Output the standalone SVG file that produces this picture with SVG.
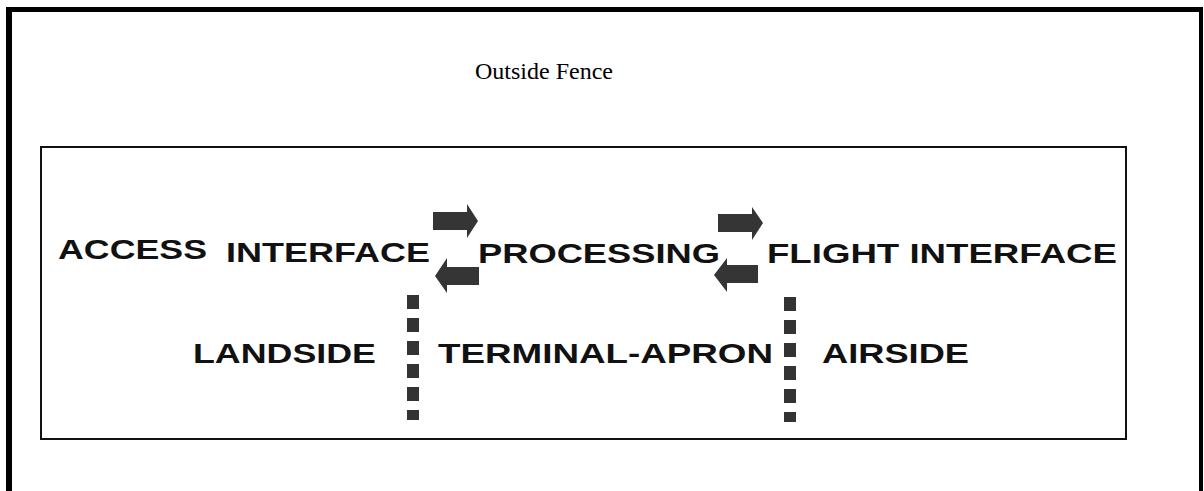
<svg xmlns="http://www.w3.org/2000/svg" width="1204" height="491" viewBox="0 0 1204 491">
  <style>
    .lbl { font-family: "Liberation Sans", Arial, sans-serif; font-weight: bold; font-size: 28px; fill: #111; }
    .fence { font-family: "Liberation Serif", "Times New Roman", serif; font-size: 24px; fill: #000; }
    .arrow { fill: #353535; }
    .divider { stroke: #333; stroke-width: 12; stroke-dasharray: 14 9; fill: none; }
  </style>
  <rect width="1204" height="491" fill="#fff"/>
  <g id="outside-fence">
    <rect x="6" y="7" width="1197" height="5" fill="#000"/>
    <rect x="6" y="7" width="6" height="484" fill="#000"/>
    <rect x="1199" y="7" width="4" height="484" fill="#000"/>
    <text class="fence" x="475" y="79">Outside Fence</text>
  </g>
  <g id="inside-fence">
    <rect x="41" y="147" width="1085" height="292" fill="none" stroke="#111" stroke-width="2"/>
  </g>
  <g id="access-interface">
    <text class="lbl" x="58" y="259" textLength="149" lengthAdjust="spacingAndGlyphs">ACCESS</text>
    <text class="lbl" x="226" y="262" textLength="204" lengthAdjust="spacingAndGlyphs">INTERFACE</text>
  </g>
  <g id="processing">
    <text class="lbl" x="478" y="263" textLength="242" lengthAdjust="spacingAndGlyphs">PROCESSING</text>
  </g>
  <g id="flight-interface">
    <text class="lbl" x="767" y="263" textLength="350" lengthAdjust="spacingAndGlyphs">FLIGHT INTERFACE</text>
  </g>
  <g id="landside">
    <text class="lbl" x="193" y="363" textLength="183" lengthAdjust="spacingAndGlyphs">LANDSIDE</text>
  </g>
  <g id="terminal-apron">
    <text class="lbl" x="438" y="363" textLength="335" lengthAdjust="spacingAndGlyphs">TERMINAL-APRON</text>
  </g>
  <g id="airside">
    <text class="lbl" x="822" y="363" textLength="147" lengthAdjust="spacingAndGlyphs">AIRSIDE</text>
  </g>
  <g id="connectors">
    <polygon class="arrow" points="433,212 467,212 467,204 478,221 467,238 467,230 433,230"/>
    <polygon class="arrow" points="479,267 447,267 447,258 435,276 447,293 447,285 479,285"/>
    <polygon class="arrow" points="718,214 752,214 752,207 763,223 752,240 752,232 718,232"/>
    <polygon class="arrow" points="758,265 727,265 727,258 714,275 727,292 727,283 758,283"/>
    <line class="divider" x1="413" y1="295" x2="413" y2="420"/>
    <line class="divider" x1="790" y1="297" x2="790" y2="422"/>
  </g>
</svg>
